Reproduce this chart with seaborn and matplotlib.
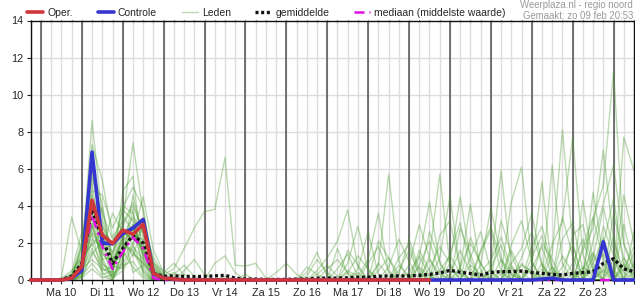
import numpy as np
import pandas as pd
import matplotlib
matplotlib.use("Agg")
import matplotlib.pyplot as plt
from matplotlib.lines import Line2D
import seaborn as sns

# ---------------- data (6-hourly steps from zo 9 feb 18:00) ----------------
step_hours = list(range(0, 360, 6))          # 60 steps
day_labels = ["Ma 10", "Di 11", "Wo 12", "Do 13", "Vr 14", "Za 15", "Zo 16",
              "Ma 17", "Di 18", "Wo 19", "Do 20", "Vr 21", "Za 22", "Zo 23"]
y_ticks = [0, 2, 4, 6, 8, 10, 12, 14]

oper = [0, 0, 0, 0, 0.1, 0.72, 4.3, 2.42, 1.97, 2.69, 2.47, 3.0, 0.36, 0.1,
        0.05, 0, 0, 0, 0, 0, 0, 0, 0, 0, 0, 0, 0, 0, 0, 0, 0, 0, 0, 0, 0, 0,
        0, 0, 0, 0] + [np.nan] * 20

controle = [0, 0, 0, 0, 0.1, 0.5, 6.9, 2.0, 1.95, 2.5, 2.8, 3.27, 0.35, 0.1,
            0.05, 0, 0, 0, 0, 0, 0, 0, 0, 0, 0, 0, 0, 0, 0, 0, 0, 0, 0, 0, 0,
            0, 0, 0, 0, 0, 0, 0, 0, 0, 0, 0, 0, 0, 0, 0, 0.05, 0.1, 0, 0, 0,
            0, 2.06, 0, 0, 0]

gemiddelde = [0, 0, 0, 0.02, 0.2, 0.9, 3.8, 2.2, 0.9, 1.7, 2.4, 2.0, 0.35,
              0.2, 0.22, 0.2, 0.18, 0.2, 0.22, 0.25, 0.1, 0.05, 0.05, 0.03,
              0.03, 0.03, 0.05, 0.05, 0.1, 0.1, 0.1, 0.12, 0.15, 0.15, 0.2,
              0.22, 0.22, 0.22, 0.25, 0.3, 0.38, 0.52, 0.42, 0.35, 0.27, 0.41,
              0.45, 0.45, 0.48, 0.4, 0.36, 0.3, 0.27, 0.36, 0.4, 0.45, 0.9,
              1.15, 0.6, 0.45]

mediaan = [0, 0, 0, 0, 0.1, 0.7, 3.5, 1.8, 0.6, 1.5, 2.3, 1.7, 0.1] + [0] * 47

m01 = [0, 0, 0, 0.1, 0.5, 1.2, 8.6, 3.3, 1.4, 2.9, 4.0, 2.6, 0.5, 0.2, 0.4, 0.1, 0, 0, 0, 0, 0, 0, 0, 0, 0, 0, 0, 0, 0.3, 0.8, 0.2, 0, 0, 0, 0.5, 1.2, 0.3, 0, 0, 0.6, 1.8, 0.9, 0, 0, 0.4, 1.1, 2.3, 0.6, 0, 0, 0.3, 1.9, 3.2, 7.7, 1.4, 0, 0.5, 0, 0.9, 0.3]
m02 = [0, 0, 0, 0, 0.3, 0.8, 7.3, 5.4, 2.3, 3.2, 7.4, 3.6, 0.9, 0.1, 0, 0, 0, 0, 0, 0, 0, 0, 0, 0, 0, 0, 0, 0, 0, 0, 0, 0.4, 1.3, 0.6, 0, 0, 0, 0, 0.8, 2.1, 0.4, 0, 0, 1.2, 2.6, 0.5, 0, 0, 0, 0, 0, 0.7, 0, 0, 1.6, 2.8, 7.0, 2.1, 0.4, 0]
m03 = [0, 0, 0, 0, 0.2, 2.1, 6.5, 2.0, 0.6, 1.8, 2.4, 4.5, 1.6, 0.4, 0.9, 0.3, 0, 0, 0, 0, 0, 0, 0, 0, 0, 0, 0, 0.4, 1.5, 0.2, 0, 0, 0, 0, 0, 0.7, 2.2, 1.0, 0, 0, 0, 0.3, 1.6, 0.4, 0, 0, 0, 0.9, 1.7, 3.6, 0.8, 0, 0, 0, 0.4, 3.3, 5.1, 11.3, 2.0, 0.6]
m04 = [0, 0, 0, 0.1, 3.4, 1.5, 5.8, 2.6, 0.3, 4.8, 5.6, 1.0, 0.3, 0, 0, 0, 0, 0, 0, 0.2, 0, 0, 0, 0, 0, 0, 0, 0, 0, 0, 0.6, 1.4, 0.2, 0, 0, 0, 0.5, 1.6, 0.3, 0, 0, 0, 0.7, 2.0, 0.9, 0, 0, 0.3, 0, 1.2, 2.4, 0.5, 0, 0, 4.3, 0.9, 0, 0, 0.6, 1.8]
m05 = [0, 0, 0, 0, 0.1, 0.6, 5.2, 1.6, 3.6, 2.6, 2.2, 1.8, 0.2, 0.1, 0, 0.5, 1.1, 0.3, 0, 0, 0, 0, 0, 0, 0, 0, 0, 0.2, 1.1, 0.4, 0, 0, 0, 0, 0.9, 0.2, 0, 0, 0, 1.1, 0.3, 0, 0, 0, 1.5, 2.7, 0.4, 0, 0, 0, 0, 0, 1.3, 0.4, 0, 4.75, 1.2, 0, 0, 0.9]
m06 = [0, 0, 0, 0, 0, 0.9, 4.8, 4.6, 2.8, 4.0, 3.6, 2.0, 0.4, 0, 0, 0, 0, 0, 0, 0, 0, 0, 0, 0, 0, 0, 0, 0, 0.5, 1.2, 2.1, 3.8, 0.7, 0, 0, 0, 0, 0.4, 1.3, 0.2, 0, 0, 0, 0, 0, 0.6, 1.9, 0.3, 0, 0, 0, 0.4, 0, 0.9, 2.2, 0.5, 0, 0, 1.2, 0.4]
m07 = [0, 0, 0, 0, 0.2, 1.8, 4.4, 1.2, 0, 1.0, 4.6, 2.3, 0.7, 0.2, 0, 0, 0, 0, 0, 0, 0, 0.3, 0, 0, 0, 0, 0, 0, 0, 0, 0, 0.9, 2.9, 0.5, 0, 0, 0.8, 0.2, 0, 0, 0, 1.4, 3.1, 0.6, 0, 0, 0, 0, 0.9, 0.3, 0, 0, 2.2, 3.1, 0.5, 0, 1.9, 4.4, 0.8, 0]
m08 = [0, 0, 0, 0, 0, 0.4, 4.0, 2.9, 1.9, 3.8, 3.2, 1.2, 0.1, 0, 0.3, 0.8, 0.2, 0, 0, 0, 0, 0, 0, 0, 0, 0, 0, 0, 0, 0, 0, 0, 0.6, 2.6, 0.3, 0, 0, 0, 0.7, 0.2, 0, 0, 0, 0.8, 0.3, 0, 0, 0, 0, 0.6, 1.8, 0.2, 0, 0, 0, 1.2, 3.9, 1.6, 0, 0]
m09 = [0, 0, 0, 0, 0.4, 2.6, 3.7, 0.5, 0.7, 2.2, 1.3, 3.0, 1.2, 0.3, 0.6, 1.7, 2.8, 3.7, 3.8, 6.6, 0.8, 0.75, 0.9, 0.1, 0, 0, 0, 0, 0, 0, 0, 0, 0, 0, 0, 0, 0, 0, 0, 0, 0.5, 1.3, 0.4, 0, 0, 0, 0, 0, 0, 0, 0, 0, 0, 0, 0.6, 1.5, 0.3, 0, 0, 0.4]
m10 = [0, 0, 0, 0, 0.1, 1.1, 3.4, 2.3, 1.2, 1.4, 2.9, 0.6, 0, 0, 0, 0, 0, 0, 0, 0, 0, 0, 0, 0, 0, 0, 0, 0, 0, 0, 0, 0.5, 0.2, 1.1, 3.6, 0.4, 0, 0, 0, 0, 0, 0, 0.3, 0, 0, 0, 1.1, 0.4, 0, 0, 0, 0, 0, 0, 0.7, 0.3, 0, 2.4, 0, 0]
m11 = [0, 0, 0, 0, 0, 0.3, 3.1, 1.0, 0.2, 3.5, 2.6, 1.6, 0.3, 0.1, 0, 0, 0, 0, 0, 0, 0, 0, 0, 0, 0, 0, 0, 0, 0, 0, 0, 0, 0, 0, 0.8, 5.7, 1.0, 0, 0, 0, 0, 0, 0, 0, 0, 0.4, 0, 0, 0.8, 0.5, 0, 0, 0, 0, 0, 0.6, 1.4, 0.3, 0, 0]
m12 = [0, 0, 0, 0, 0.2, 1.4, 2.8, 3.9, 1.0, 2.0, 1.6, 0.4, 0, 0, 0, 0, 0, 0, 0, 0, 0, 0, 0, 0, 0, 0, 0, 0, 0, 0, 0, 0, 0.4, 0, 0, 0, 0.3, 2.2, 0.6, 0, 0, 0, 0, 0, 0, 0, 0.5, 0, 0, 0, 0.9, 0, 0, 0, 0, 0, 0, 0, 0.8, 0.2]
m13 = [0, 0, 0, 0, 0, 0.7, 2.5, 0.3, 0.5, 1.2, 2.0, 2.8, 0.9, 0.5, 0.2, 0, 0, 0, 0, 0, 0, 0, 0, 0, 0, 0, 0, 0, 0, 0, 0, 0, 0, 0, 0, 0, 0, 0.8, 3.0, 1.2, 0, 0, 0, 0, 0, 0, 0, 1.6, 0.4, 0, 0, 0, 0, 0, 0, 0, 0.6, 0, 0, 0]
m14 = [0, 0, 0, 0, 0.1, 0.2, 2.2, 1.8, 0.1, 0.8, 1.0, 0.2, 0, 0, 0, 0, 0, 0, 0, 0, 0, 0, 0, 0, 0, 0, 0, 0, 0, 0, 0, 0, 0, 0, 0, 0, 0, 0, 1.2, 4.2, 0.9, 0, 0, 0, 0, 0, 0, 0, 0, 0, 0, 0, 0.7, 1.9, 0, 0, 0, 0, 0, 0]
m15 = [0, 0, 0, 0, 0, 1.0, 2.0, 0.8, 0.6, 2.4, 3.4, 1.4, 0.2, 0, 0, 0, 0, 0, 0, 0, 0, 0, 0, 0, 0, 0, 0, 0, 0, 0, 0, 0, 0, 0, 0, 0, 0, 0, 0, 1.3, 5.7, 0.8, 0, 0, 0, 0, 0, 0, 0, 0, 0, 0, 0, 0, 0, 0.9, 2.3, 0.5, 0, 0]
m16 = [0, 0, 0, 0, 0.3, 0.5, 1.7, 0.4, 0, 1.6, 0.7, 0.1, 0, 0, 0, 0, 0, 0, 0, 0, 0, 0, 0, 0, 0, 0, 0, 0, 0, 0, 0, 0, 0, 0, 0, 0, 0, 0, 0, 0, 1.2, 4.5, 0.6, 0, 0, 0, 0, 0.7, 0, 0, 0, 0, 0, 0, 0, 0, 0, 0, 3.0, 0.7]
m17 = [0, 0, 0, 0, 0, 0.1, 1.4, 2.1, 0.8, 0.6, 1.8, 1.1, 0.1, 0, 0, 0, 0, 0, 0, 0, 0, 0, 0, 0, 0, 0, 0, 0, 0, 0, 0, 0, 0, 0, 0, 0, 0, 0, 0, 0, 0, 0.9, 4.5, 1.1, 0, 0, 0, 0, 0, 0, 0.6, 0, 0, 0, 0, 0, 0.8, 0, 0, 0]
m18 = [0, 0, 0, 0, 0.1, 0.6, 1.1, 0.6, 0.4, 2.7, 0.4, 0.8, 0, 0.1, 0, 0, 0, 0, 0, 0, 0, 0, 0, 0, 0, 0, 0, 0, 0, 0, 0, 0, 0, 0, 0, 0, 0, 0, 0, 0, 0, 0, 0.6, 4.1, 0.5, 0, 0, 0, 0, 0, 0, 0, 0, 0.3, 0, 0, 0, 0, 0, 0]
m19 = [0, 0, 0, 0, 0, 0.2, 0.9, 0.2, 0, 1.5, 2.5, 1.9, 0.4, 0, 0, 0, 0, 0, 0, 0, 0, 0, 0, 0, 0, 0, 0, 0, 0, 0, 0, 0, 0, 0, 0, 0, 0, 0, 0, 0, 0, 0, 0, 0, 0.8, 3.9, 1.2, 0, 0, 0, 0, 0, 0, 0, 0, 1.4, 0, 0, 0, 0]
m20 = [0, 0, 0, 0, 0, 0.1, 0.6, 0.1, 0.3, 0.9, 1.9, 0.5, 0, 0, 0, 0, 0, 0, 0, 0, 0, 0, 0, 0, 0, 0, 0, 0, 0, 0, 0, 0, 0, 0, 0, 0, 0, 0, 0, 0, 0, 0, 0, 0, 0, 0.6, 5.9, 0.8, 0, 0, 0, 0, 0, 0, 0, 0, 0, 1.1, 0, 0]
m21 = [0, 0, 0, 0, 0.2, 1.6, 4.6, 3.0, 1.1, 2.1, 2.7, 1.5, 0.2, 0.2, 0, 0, 0, 0, 0, 0, 0, 0, 0, 0, 0, 0, 0, 0, 0, 0, 0, 0, 0, 0, 0, 0, 0, 0, 0, 0, 0, 0, 0, 0, 0, 0, 0.3, 4.2, 6.1, 1.0, 0, 0, 0, 0, 0, 0, 0, 0, 0, 0]
m22 = [0, 0, 0, 0, 0, 0.9, 3.0, 1.4, 0.9, 1.3, 3.0, 1.7, 0.6, 0, 0, 0, 0, 0, 0, 0, 0, 0, 0, 0, 0, 0, 0, 0, 0, 0, 0, 0, 0, 0, 0, 0, 0, 0, 0, 0, 0, 0, 0, 0, 0, 0, 0, 0, 0, 0.8, 5.3, 0.4, 0, 0, 0, 0, 0, 0, 0, 2.6]
m23 = [0, 0, 0, 0, 0.1, 0.4, 2.6, 1.5, 0.6, 1.9, 1.5, 0.9, 0.3, 0, 0, 0, 0, 0, 0, 0, 0, 0, 0, 0, 0, 0, 0, 0, 0, 0, 1.7, 0.3, 0, 0, 0, 0, 0, 0, 0, 0, 0, 0, 0, 0, 0, 0, 0, 0, 0, 0, 0, 6.2, 0.9, 0, 0, 0, 0, 0, 0, 0]
m24 = [0, 0, 0, 0, 0, 1.3, 1.9, 2.6, 2.0, 2.5, 2.3, 2.2, 0.7, 0.1, 0, 0, 0, 0, 0, 0, 0, 0, 0, 0, 0, 0, 0, 0, 0, 0, 0, 0, 0, 0, 0, 0, 0, 0, 0, 0, 0, 0, 0, 0, 0, 0, 0, 0, 0, 0, 0, 1.4, 8.1, 2.0, 0, 0, 0, 0, 7.7, 5.9]
m25 = [0, 0, 0, 0, 0, 0.5, 3.9, 2.4, 1.5, 3.0, 4.2, 2.5, 0.8, 0.3, 0, 0, 0, 0, 0, 0, 0, 0, 0, 0, 0, 0, 0, 0, 0, 0.6, 1.1, 0.4, 0, 0, 0, 0, 0, 0, 0, 0, 2.4, 3.2, 0.6, 0, 0, 0, 0, 0, 0, 1.8, 2.9, 0.7, 0, 0, 0, 0, 0, 3.6, 1.2, 0]
m26 = [0, 0, 0, 0, 0, 1.0, 5.5, 3.6, 2.2, 2.8, 1.9, 3.3, 1.0, 0.2, 0, 0, 0, 0, 0, 0, 0, 0, 0, 0, 0, 0, 0, 0, 0, 0, 0, 0, 0, 0.9, 1.8, 0.5, 0, 0, 0, 0, 0, 0, 0, 0, 1.6, 2.9, 1.0, 0, 0, 0, 0, 0, 0, 2.4, 3.0, 0.6, 0, 0, 0, 1.5]
m27 = [0, 0, 0, 0, 0, 0.3, 2.9, 1.1, 1.3, 3.9, 5.0, 3.9, 0.6, 0, 0, 0, 0, 0, 0, 0, 0, 0, 0, 0, 0.4, 0.9, 0.3, 0, 0, 0, 0, 0, 0, 0, 0, 0, 1.2, 1.9, 0.4, 0, 0, 0, 0, 0, 0, 0, 0, 1.9, 3.2, 1.0, 0, 0, 0, 0, 0, 2.1, 4.1, 6.2, 1.9, 0.5]
m28 = [0, 0, 0, 0, 0, 0.7, 4.2, 0.9, 0.2, 1.1, 3.8, 0.3, 0, 0, 0, 0, 0, 0, 0.9, 1.3, 0.4, 0, 0, 0, 0, 0, 0, 0, 0, 0, 0, 1.6, 0.8, 0, 0, 0, 0, 0, 0, 2.6, 1.0, 0, 2.8, 1.4, 0, 0, 0, 0, 0, 0, 0, 0, 3.4, 1.3, 0, 0, 0, 0, 4.6, 2.0]
m29 = [0, 0, 0, 0, 0, 1.9, 6.0, 4.1, 0.8, 2.3, 3.0, 1.3, 0.4, 0, 0, 0, 0, 0, 0, 0, 0, 0, 0, 0, 0, 0, 0, 0.7, 0.3, 0, 0, 0, 0, 0, 2.1, 1.2, 0, 0, 0, 0, 0, 0, 0, 0, 0, 0, 3.2, 1.4, 0, 0, 2.0, 1.1, 0, 0, 1.8, 3.4, 1.0, 0, 0, 0]
m30 = [0, 0, 0, 0, 0, 0.2, 1.5, 0.7, 0.1, 0.5, 1.4, 0.9, 0.1, 0, 0, 0, 0, 0, 0, 0, 0, 0, 0, 0, 0, 0, 0, 0, 0, 0, 0, 0, 0, 0, 0, 0, 0, 0, 1.6, 0.5, 0, 0, 0, 2.3, 0.9, 0, 0, 0, 1.2, 2.6, 0.8, 0, 0, 0, 0, 0, 2.9, 1.3, 0, 0]

leden = [m01, m02, m03, m04, m05, m06, m07, m08, m09, m10, m11, m12, m13, m14, m15,
         m16, m17, m18, m19, m20, m21, m22, m23, m24, m25, m26, m27, m28, m29, m30]

# ---------------- styling ----------------
sns.set_theme(style="white")
plt.rcParams["font.family"] = ["Liberation Sans", "DejaVu Sans"]

C_OPER = "#d0373a"
C_CTRL = "#3535d0"
C_LEDEN = "#45992a"
C_MED = "#e010e0"

fig = plt.figure(figsize=(6.35, 3.0), dpi=100)
ax = fig.add_axes([30.7 / 635, 1 - 280 / 300, (634 - 30.7) / 635, (280 - 20.5) / 300])

df_leden = pd.DataFrame({
    "uur": np.tile(step_hours, len(leden)),
    "waarde": np.concatenate([np.asarray(m, float) for m in leden]),
    "lid": np.repeat(np.arange(len(leden)), len(step_hours)),
})
sns.lineplot(data=df_leden, x="uur", y="waarde", units="lid", estimator=None,
             color=C_LEDEN, alpha=0.36, lw=1.0, ax=ax, legend=False, zorder=3)

df_main = pd.DataFrame({"uur": step_hours, "oper": oper, "controle": controle,
                        "gemiddelde": gemiddelde, "mediaan": mediaan})

sns.lineplot(data=df_main, x="uur", y="gemiddelde", color="#111111", lw=2.4,
             ax=ax, zorder=5, clip_on=False)
ax.lines[-1].set_linestyle((0, (0.9, 0.8)))
sns.lineplot(data=df_main, x="uur", y="mediaan", color=C_MED, lw=1.8,
             ax=ax, zorder=6, clip_on=False)
ax.lines[-1].set_linestyle((0, (4, 2, 1, 2)))
sns.lineplot(data=df_main, x="uur", y="controle", color=C_CTRL, lw=2.6,
             ax=ax, zorder=7, clip_on=False)
sns.lineplot(data=df_main.dropna(subset=["oper"]), x="uur", y="oper",
             color=C_OPER, lw=2.6, ax=ax, zorder=8, clip_on=False)

# axes, grid
x_end = step_hours[-1]
ax.set_xlim(0, x_end)
ax.set_ylim(0, 14)
ax.set_xlabel("")
ax.set_ylabel("")

for h in step_hours:
    ax.axvline(h, color="#dddddd", lw=1.0, zorder=1)
day_lines = [6 + 24 * k for k in range(15)]
for h in day_lines:
    ax.axvline(h, color="#505050", lw=1.1, zorder=2)
for yv in y_ticks[1:-1]:
    ax.axhline(yv, color="#dddddd", lw=1.0, zorder=1)

ax.set_yticks(y_ticks)
ax.set_yticklabels([str(v) for v in y_ticks])
ax.set_xticks([18 + 24 * k for k in range(len(day_labels))])
ax.set_xticklabels(day_labels)
ax.set_xticks(step_hours, minor=True)
ax.tick_params(axis="x", which="both", direction="out", length=3, width=0.8,
               color="#222222", bottom=True, labelsize=7.8, pad=3)
ax.tick_params(axis="y", which="both", direction="out", length=3, width=0.8,
               color="#222222", left=True, labelsize=7.8, pad=2)

top = ax.secondary_xaxis("top")
top.set_xticks(step_hours)
top.tick_params(direction="in", length=3, width=0.8, color="#222222",
                labeltop=False)
top.spines["top"].set_visible(False)

for s in ax.spines.values():
    s.set_color("#111111")
    s.set_linewidth(1.0)
    s.set_zorder(4)

# legend above plot
handles = [
    Line2D([], [], color=C_OPER, lw=2.6),
    Line2D([], [], color=C_CTRL, lw=2.6),
    Line2D([], [], color=C_LEDEN, lw=1.0, alpha=0.36),
    Line2D([], [], color="#111111", lw=2.4, linestyle=(0, (0.9, 0.8))),
    Line2D([], [], color=C_MED, lw=1.8, linestyle=(0, (4, 2, 1, 2))),
]
labels = ["Oper.", "Controle", "Leden", "gemiddelde", "mediaan (middelste waarde)"]
fig.legend(handles, labels, loc="center left", bbox_to_anchor=(0.043, 0.957),
           ncol=5, frameon=False, fontsize=7.5, handlelength=1.55,
           handletextpad=0.4, columnspacing=2.35, borderaxespad=0, borderpad=0)

fig.text(0.997, 0.985, "Weerplaza.nl - regio noord", ha="right", va="center",
         color="#9a9a9a", fontsize=6.9)
fig.text(0.997, 0.948, "Gemaakt: zo 09 feb 20:53", ha="right", va="center",
         color="#9a9a9a", fontsize=6.9)

fig.savefig("out.png", dpi=100)
